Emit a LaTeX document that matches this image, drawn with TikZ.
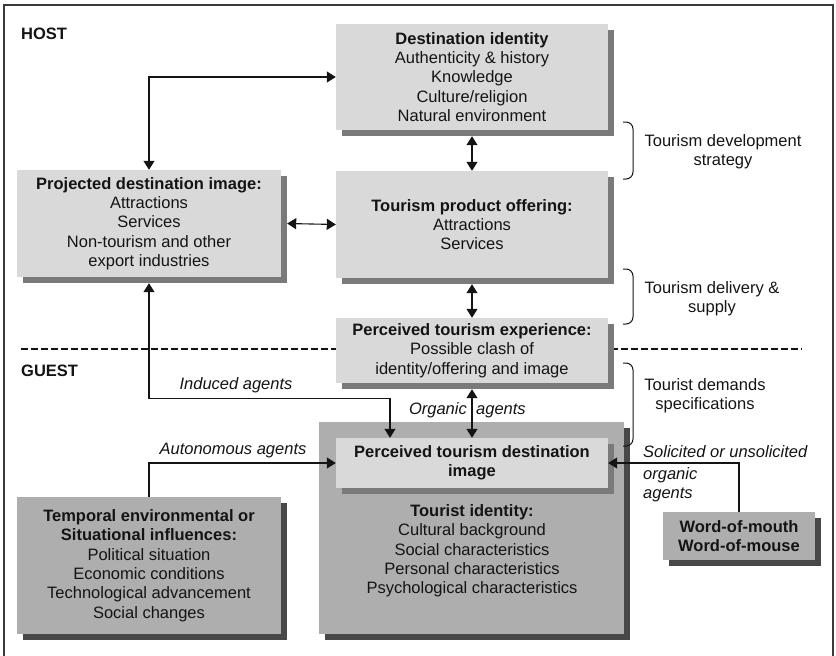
\documentclass[tikz,border=0pt]{standalone}
\usepackage{fontspec}
\setmainfont{Liberation Sans}
\usetikzlibrary{shadows,arrows.meta}

\definecolor{boxlight}{HTML}{D9D9D9}
\definecolor{boxdark}{HTML}{AEAEAE}
\definecolor{shadelight}{HTML}{7A7A7A}
\definecolor{shadedark}{HTML}{484848}
\definecolor{ink}{HTML}{141414}
\definecolor{framecol}{HTML}{3A3A3A}

\tikzset{
  txt/.style={font=\fontsize{16.5}{19.3}\selectfont, text=ink, inner sep=0pt, align=center},
  lbl/.style={font=\fontsize{16.5}{19.3}\selectfont\itshape, text=ink, inner sep=0pt},
  head/.style={font=\fontsize{16.5}{19.3}\selectfont\bfseries, text=ink, inner sep=0pt},
  lightpanel/.style={txt, fill=boxlight,
    drop shadow={shadow xshift=6pt, shadow yshift=-6pt, fill=shadelight, opacity=1}},
  darkpanel/.style={txt, fill=boxdark,
    drop shadow={shadow xshift=6pt, shadow yshift=-6pt, fill=shadedark, opacity=1}},
  link/.style={draw=ink, line width=1.1pt},
  both/.style={link, arrows={Triangle[length=9pt,width=11pt]-Triangle[length=9pt,width=11pt]}},
  fwd/.style={link, arrows={-Triangle[length=9pt,width=11pt]}},
  bracket/.style={draw=ink, line width=1pt, rounded corners=7pt},
}

\begin{document}
\begin{tikzpicture}[x=1pt, y=-1pt]
  \useasboundingbox (0,0) rectangle (836,656);

  % outer frame (open at the bottom)
  \draw[framecol, line width=1.5pt] (4,660) -- (4,5) -- (833,5) -- (833,660);

  % host / guest separator
  \draw[ink, line width=1.5pt, dash pattern=on 7pt off 3pt] (21,349) -- (802,349);

  % section headings
  \node[head, anchor=base west] (host) at (21,39) {HOST};
  \node[head, anchor=base west] (guest) at (21,376) {GUEST};

  % host side
  \node[lightpanel, minimum width=272pt, minimum height=106pt] (dest) at (472,77)
    {\textbf{Destination identity}\\Authenticity \& history\\Knowledge\\Culture/religion\\Natural environment};
  \node[lightpanel, minimum width=272pt, minimum height=107pt] (prod) at (472,224.5)
    {\textbf{Tourism product offering:}\\Attractions\\Services};
  \node[lightpanel, minimum width=264pt, minimum height=107pt] (proj) at (149,223.5)
    {\textbf{Projected destination image:}\\Attractions\\Services\\Non-tourism and other\\export industries};
  \node[lightpanel, minimum width=272pt, minimum height=65pt] (exp) at (472,350.5)
    {\textbf{Perceived tourism experience:}\\Possible clash of\\identity/offering and image};

  % guest side
  \node[darkpanel, minimum width=305pt, minimum height=212pt] (tourbg) at (471.5,528) {};
  \node[lightpanel, minimum width=272pt, minimum height=50pt] (img) at (472,463)
    {\textbf{Perceived tourism destination}\\\textbf{image}};
  \node[txt] (tourid) at (472,551)
    {\textbf{Tourist identity:}\\Cultural background\\Social characteristics\\Personal characteristics\\Psychological characteristics};
  \node[darkpanel, minimum width=264pt, minimum height=137pt] (temp) at (149,565.5)
    {\textbf{Temporal environmental or}\\\textbf{Situational influences:}\\Political situation\\Economic conditions\\Technological advancement\\Social changes};
  \node[darkpanel, minimum width=152pt, minimum height=48pt] (wom) at (739,536)
    {\textbf{Word-of-mouth}\\\textbf{Word-of-mouse}};

  % connectors
  \draw[both] (proj.north) |- (dest.west);
  \draw[both] ([xshift=6pt]proj.east) -- (prod.west);
  \draw[both] ([yshift=-6pt]dest.south) -- (prod.north);
  \draw[both] ([yshift=-6pt]prod.south) -- (exp.north);
  \draw[both] ([yshift=-6pt]exp.south) -- (img.north);
  \draw[both] ([yshift=-6pt]proj.south) -- ++(0,115) -| ([xshift=-82pt]img.north);
  \draw[fwd] (temp.north) |- (img.west);
  \draw[fwd] (wom.north) |- (img.east);

  % connector labels
  \node[lbl, anchor=base] (induced) at (236,389) {Induced agents};
  \node[lbl, anchor=base] (auto) at (233,454) {Autonomous agents};
  \node[lbl, anchor=base east] (organic) at (467,414) {Organic};
  \node[lbl, anchor=base west] (organicb) at (476,414) {agents};
  \node[lbl, anchor=base west] (solicit) at (643,457) {Solicited or unsolicited};
  \node[lbl, anchor=west, align=left] (solicitb) at (643,485) {organic\\agents};

  % brackets with stage names
  \draw[bracket] (623,122) -- (633,122) -- (633,179) -- (623,179);
  \draw[bracket] (623,269) -- (633,269) -- (633,324) -- (623,324);
  \draw[bracket] (623,363) -- (633,363) -- (633,446) -- (623,446);
  \node[txt] (strategy) at (723,152) {Tourism development\\strategy};
  \node[txt] (delivery) at (712,299) {Tourism delivery \&\\supply};
  \node[txt] (demands) at (705,396) {Tourist demands\\specifications};
\end{tikzpicture}
\end{document}
